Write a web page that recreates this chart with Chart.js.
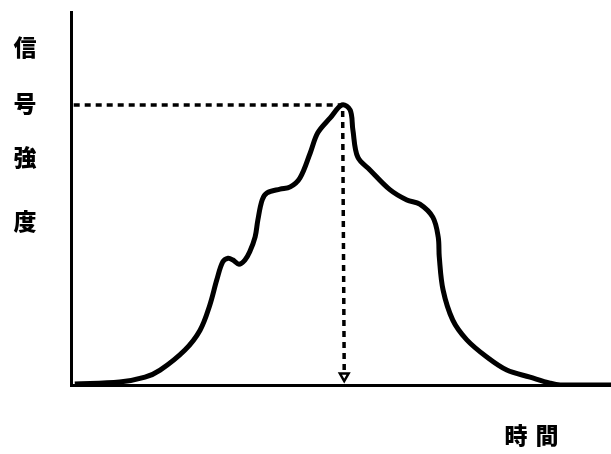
<!DOCTYPE html>
<html>
<head>
<meta charset="utf-8">
<script src="https://cdn.jsdelivr.net/npm/chart.js@4/dist/chart.umd.min.js"></script>
<style>
  body { margin: 0; background: #fff; }
  canvas { display: block; }
</style>
</head>
<body>
<canvas id="signal_chart" width="611" height="454"></canvas>
<script>
// time (0-100) and signal strength (0-100)
var timeValues = [0.7, 9, 13.7, 16.5, 21.1, 23.9, 25.7, 27, 28.1, 29.1, 30, 31.1, 32.2, 33.1, 34.1, 34.6, 35.4, 36.3, 38.7, 40.6, 42.4, 44.3, 45.7, 48, 50.2, 51.7, 52.2, 53.1, 55.4, 59.1, 62.2, 64.6, 67, 68, 68.2, 68.9, 70.7, 73.3, 77, 80.7, 85, 88.7, 90.6, 100];
var signalValues = [0.3, 0.8, 2.1, 4, 9.4, 14.7, 21.4, 28.2, 33, 34, 33.5, 32.4, 33.5, 35.7, 39.7, 44.2, 49.6, 51.5, 52.5, 53.1, 55.5, 62.2, 67.6, 71.6, 75.1, 73.7, 68.4, 61.1, 57.6, 52.3, 49.6, 48.5, 45, 39.7, 34.3, 25.5, 17.4, 12.1, 7.5, 4, 2.1, 0.5, 0, 0];
// dashed guide from the y axis to the peak and down to the time axis
var guideTime = [0.5, 50.3, 50.6];
var guideSignal = [75.1, 75.1, 2.4];
var yLabelChars = ['信', '号', '強', '度'];
var xLabelChars = ['時', '間'];

var curve = timeValues.map(function(t, i) { return {x: t, y: signalValues[i]}; });
var guide = guideTime.map(function(t, i) { return {x: t, y: guideSignal[i]}; });

var labelPlugin = {
    id: 'labelPlugin',
    afterDraw: function(chart) {
        var c = chart.ctx;
        c.save();
        c.fillStyle = '#000';
        c.font = '900 23px "Noto Sans CJK JP"';
        c.textAlign = 'center';
        c.textBaseline = 'middle';
        var ys = [47, 103, 157, 221];
        yLabelChars.forEach(function(ch, i) {
            c.fillText(ch, 25, ys[i]);
        });
        var xs = [516, 547];
        xLabelChars.forEach(function(ch, i) {
            c.fillText(ch, xs[i], 435);
        });
        c.restore();
    }
};

var ctx = document.getElementById('signal_chart');
new Chart(ctx, {
    type: 'line',
    data: {
        datasets: [{
            label: 'signal',
            data: curve,
            borderColor: '#000',
            borderWidth: 5,
            pointRadius: 0,
            tension: 0.35,
            fill: false
        }, {
            label: 'guide',
            data: guide,
            borderColor: '#000',
            borderWidth: 3.5,
            borderDash: [6, 5],
            tension: 0,
            pointRadius: [0, 0, 5],
            pointStyle: 'triangle',
            rotation: 180,
            pointBackgroundColor: '#fff',
            pointBorderColor: '#000',
            pointBorderWidth: 2.5,
            fill: false
        }]
    },
    options: {
        responsive: false,
        animation: false,
        layout: {
            autoPadding: false,
            padding: {left: 71, top: 12, right: 0, bottom: 69}
        },
        plugins: {
            legend: {display: false},
            tooltip: {enabled: false}
        },
        scales: {
            x: {
                type: 'linear',
                min: 0,
                max: 100,
                grid: {display: false, drawTicks: false},
                ticks: {display: false},
                border: {display: true, color: '#000', width: 3}
            },
            y: {
                min: 0,
                max: 100,
                grid: {display: false, drawTicks: false},
                ticks: {display: false},
                border: {display: true, color: '#000', width: 3}
            }
        }
    },
    plugins: [labelPlugin]
});
</script>
</body>
</html>
